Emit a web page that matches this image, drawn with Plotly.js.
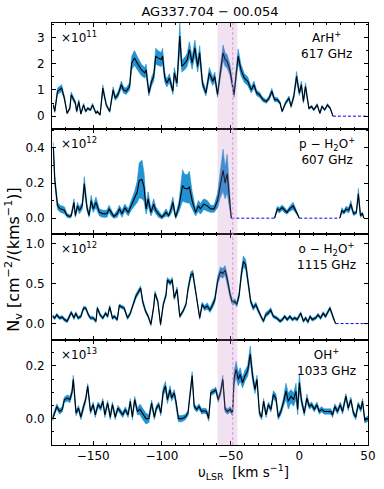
<!DOCTYPE html>
<html><head><meta charset="utf-8">
<script src="https://cdn.plot.ly/plotly-3.0.1.min.js"></script>
<style>html,body{margin:0;padding:0;background:#fff}#chart{width:384px;height:489px}</style>
</head><body><div id="chart"></div>
<script>
// ---------- data (velocity in km/s, column densities in units of the panel scale) ----------
const velArH = [-179,-178,-176,-173,-171,-169,-167,-166,-163,-162,
 -160.5,-159,-157,-155.5,-154,-152,-150.5,-148,-147,-145,
 -143,-140.5,-138,-135.5,-134,-132,-129.5,-128,-126,-123.5,
 -122,-120,-118,-115,-112.5,-111.5,-109.5,-107.5,-106,-104.5,
 -103,-100.5,-99.5,-98,-96.5,-94.5,-92,-91,-89,-87,
 -85.5,-83,-81.5,-80,-78,-76,-74,-72.5,-70.5,-68,
 -65.5,-63,-61.5,-59.5,-57.5,-55.5,-54,-52.5,-50.5,-47.5,
 -46,-44.5,-42.5,-40,-37.5,-35,-33,-31,-29,-26.5,
 -24,-22,-20,-18,-16,-14,-12.5,-10,-7.5,-6,
 -4,-2,0,1.5,3,4.5,7,9,10.5,13,
 15,16.5,18.5,20.5,22.5,24.5];
const nArH = [0.43,0.18,0.95,1.07,0.69,0.11,0.30,0.82,0.50,0.18,
 0.56,0.09,0.43,0.18,0.30,0.24,0.43,0.11,0.18,0.05,
 1.07,0.43,0.18,1.0,0.69,0.82,1.2,1.0,0.95,1.14,
 2.03,2.22,2.03,1.77,1.65,1.77,0.88,1.33,1.5,2.29,
 2.22,2.16,2.29,1.5,1.26,1.45,0.95,1.65,1.26,3.05,
 1.9,2.03,2.16,2.54,2.03,2.6,1.9,2.41,1.26,0.88,
 1.65,1.33,1.5,0.82,1.65,2.41,2.16,2.09,1.77,0.82,
 1.58,2.29,1.77,1.45,1.33,1.0,1.2,0.88,0.82,0.63,
 0.56,0.69,0.95,0.63,0.63,0.5,0.18,0.5,0.69,0.37,
 0.76,1.52,0.88,1.2,0.56,1.14,0.3,0.37,0.24,0.43,
 0.11,0.37,0.24,0.43,0.3,0.0];
const errArH = [0.06,0.04,0.12,0.13,0.08,0.03,0.05,0.10,0.07,0.04,
 0.07,0.03,0.06,0.04,0.05,0.04,0.06,0.03,0.04,0.03,
 0.12,0.06,0.04,0.12,0.09,0.10,0.14,0.12,0.12,0.14,
 0.25,0.28,0.25,0.22,0.20,0.22,0.11,0.16,0.18,0.30,
 0.28,0.27,0.30,0.18,0.15,0.17,0.12,0.20,0.15,0.50,
 0.22,0.24,0.25,0.30,0.24,0.30,0.22,0.28,0.15,0.11,
 0.20,0.16,0.18,0.10,0.20,0.30,0.26,0.25,0.21,0.10,
 0.19,0.27,0.21,0.17,0.16,0.12,0.14,0.10,0.10,0.08,
 0.07,0.08,0.11,0.08,0.08,0.06,0.03,0.06,0.08,0.05,
 0.09,0.18,0.10,0.14,0.07,0.13,0.04,0.05,0.03,0.05,
 0.02,0.05,0.03,0.05,0.04,0.0];

const velPH2O = [-179,-178,-176,-174,-171,-169,-167,-166,-164,-163,
 -161.5,-160,-158,-156.5,-154.5,-153,-151.5,-150,-148,-145.5,
 -143,-140,-138.5,-137,-135,-132.5,-131,-129,-127,-124.5,
 -122,-120,-118,-116.5,-114.5,-113,-111.5,-110,-108,-106,
 -104.5,-102.5,-100,-97,-95,-93,-92,-90,-87.5,-85,
 -83.5,-81.5,-80,-78,-75.5,-73.5,-72,-69.5,-67,-64.5,
 -62,-59.5,-57.5,-55.5,-54,-52.5,-51,-49.5,
 null,
 -18,-16,-14.5,-12.5,-10.5,-9,-7,-4.5,-2,0,
 null,
 29.5,31,32.5,34,36,37.5,39.5,41.5,43,44.5,46,47];
const nPH2O = [0.40,0.22,0.07,0.053,0.045,0.015,0.01,0.015,0.09,0.015,
 0.07,0.045,0.07,0.196,0.06,0.015,0.10,0.053,0.09,0.033,
 0.025,0.025,0.053,0.033,0.01,0.025,0.053,0.025,0.06,0.033,
 0.08,0.11,0.149,0.215,0.22,0.177,0.053,0.11,0.033,0.08,
 0.045,0.025,0.006,0.033,0.015,0.06,0.09,0.006,0.07,0.186,
 0.17,0.167,0.177,0.10,0.033,0.07,0.053,0.08,0.07,0.053,
 0.053,0.10,0.186,0.272,0.20,0.253,0.129,0.0,
 null,
 0.0,0.053,0.045,0.06,0.045,0.033,0.053,0.07,0.033,0.0,
 null,
 0.0,0.045,0.033,0.053,0.045,0.08,0.025,0.033,0.139,0.015,0.025,0.0];
const errPH2O = [0.03,0.03,0.02,0.02,0.02,0.01,0.01,0.01,0.02,0.01,
 0.02,0.02,0.02,0.04,0.02,0.01,0.03,0.02,0.03,0.02,
 0.02,0.02,0.02,0.02,0.01,0.02,0.02,0.02,0.02,0.02,
 0.03,0.04,0.06,0.10,0.11,0.08,0.03,0.04,0.02,0.03,
 0.02,0.02,0.01,0.02,0.01,0.03,0.03,0.01,0.03,0.09,
 0.08,0.08,0.09,0.05,0.02,0.03,0.03,0.03,0.03,0.02,
 0.02,0.04,0.07,0.12,0.09,0.11,0.06,0.0,
 null,
 0,0.015,0.015,0.015,0.015,0.01,0.015,0.02,0.01,0,
 null,
 0,0.015,0.01,0.015,0.015,0.02,0.01,0.01,0.03,0.01,0.01,0];

const velOH2O = [-179.5,-178,-176.5,-174.5,-172.5,-171,-169,-167.7,-166,-164,
 -162.7,-161,-159,-157,-155.5,-153.5,-152,-150,-148,-147,
 -145,-143,-141,-139.5,-138,-136,-134.5,-132.5,-131,-129.5,
 -127.5,-125,-123,-121.5,-119,-117,-115.5,-114,-112,-110,
 -108,-106,-105,-103,-101,-99,-97,-96,-94,-92.5,
 -91,-89,-87,-84.5,-82.5,-81,-79,-77.5,-75.8,-74,
 -72.5,-70.7,-69,-67,-65,-63,-61.5,-59.3,-57.4,-55.7,
 -54,-52.3,-50.3,-48.6,-47,-45.5,-43.8,-42.1,-40.7,-39,
 -37.3,-35.4,-33.5,-31.7,-30,-28.1,-26.1,-24.5,-22.8,-20.8,
 -18.9,-16.5,-14,-12.3,-10.7,-8.7,-6.8,-5.1,-3.4,-1.5,
 1,3,4.6,6.3,7.8,9.4,11.9,13.6,15.5,17.4,
 19.1,22.3,24.7,26.4];
const nOH2O = [0.09,0.07,0.11,0.07,0.08,0.05,0.03,0.07,0.14,0.07,
 0.13,0.07,0.09,0.195,0.195,0.11,0.07,0.07,0.03,0.195,
 0.11,0.07,0.13,0.09,0.21,0.07,0.09,0.05,0.225,0.21,
 0.195,0.07,0.13,0.21,0.34,0.40,0.445,0.28,0.16,0.09,
 -0.01,0.21,0.38,0.28,-0.01,0.24,0.36,0.55,0.51,0.55,
 0.32,0.43,0.09,0.16,0.24,0.43,0.61,0.63,0.445,0.26,
 0.07,0.24,0.195,0.22,0.17,0.24,0.30,0.55,0.65,0.63,
 0.67,0.55,0.36,0.26,0.28,0.24,0.36,0.63,0.78,0.74,
 0.51,0.28,0.195,0.24,0.17,0.09,0.03,0.11,0.13,0.17,
 0.09,0.07,0.03,0.05,0.09,0.05,0.09,0.05,0.07,0.05,
 0.13,0.03,0.07,0.02,0.09,0.05,0.07,0.11,0.07,0.13,
 0.09,0.195,0.07,0.0];
const errOH2O = [0.02,0.02,0.02,0.02,0.02,0.02,0.02,0.02,0.02,0.02,
 0.02,0.02,0.02,0.02,0.02,0.02,0.02,0.02,0.02,0.02,
 0.02,0.02,0.02,0.02,0.02,0.02,0.02,0.02,0.02,0.02,
 0.02,0.02,0.02,0.02,0.03,0.03,0.03,0.03,0.02,0.02,
 0.02,0.02,0.03,0.02,0.02,0.02,0.03,0.03,0.03,0.03,
 0.02,0.03,0.02,0.02,0.02,0.03,0.04,0.04,0.03,0.02,
 0.02,0.03,0.03,0.04,0.03,0.04,0.04,0.05,0.06,0.06,
 0.06,0.05,0.04,0.03,0.03,0.03,0.04,0.05,0.07,0.06,
 0.05,0.03,0.03,0.03,0.03,0.02,0.02,0.03,0.03,0.03,
 0.02,0.02,0.02,0.02,0.02,0.02,0.02,0.02,0.02,0.02,
 0.02,0.02,0.02,0.02,0.02,0.02,0.02,0.02,0.02,0.02,
 0.02,0.02,0.02,0.0];

const velOH = [-179.5,-178,-176.5,-174.5,-172.5,-171,-168.6,-167,-165.5,-164.5,
 -162.5,-160.7,-159,-157,-155.5,-154,-152,-150,-148.5,-146.5,
 -144.5,-143,-141.5,-139.5,-137.6,-136,-134,-132,-130.5,-128.5,
 -126.7,-124.6,-123,-121.5,-119.8,-117.8,-116,-113.6,-111.6,-109.5,
 -107.5,-105.5,-104,-102.3,-100.8,-99,-97.4,-96,-94,-93,
 -91,-89.6,-88,-85.5,-83,-81,-80,-78,-76.5,-74.6,
 -73,-71,-69.5,-67.5,-66,-64.4,-62,-60.8,-59,-57.4,
 -55.7,-54,-52.3,-50.3,-48.6,-47.4,-46,-44.4,-43,-41.3,
 -39.6,-37.6,-35.7,-34,-32.3,-30.8,-29,-27.4,-26,-24.2,
 -22.5,-20.6,-18.9,-17,-15.3,-13.4,-11.7,-9.7,-8,-6.1,
 -4.1,-2.4,-1.2,0,1.7,3.6,5.5,7.3,9,10.9,
 12.8,14.5,16.2,18.2,20.6,23,24.2,25.9,27.8,29.8,
 31.5,33.9,35.6,37.5,39.4,41.1,42.8,44.8,46,47.7,
 50];
const nOH = [0.0,0.027,0.046,0.027,0.035,0.072,0.078,0.072,0.098,0.149,
 0.021,0.04,0.006,0.046,0.072,0.123,0.027,0.053,0.014,0.053,
 0.04,0.066,0.014,0.059,0.006,0.053,0.006,0.04,0.027,0.014,
 0.035,0.014,0.066,0.006,0.072,0.027,0.035,0.014,0.0,0.0,
 0.059,0.006,0.04,0.053,0.021,0.104,0.123,0.072,0.11,0.078,
 0.098,0.059,0.0,0.0,0.006,0.021,0.072,0.163,0.046,0.035,
 0.046,0.027,0.03,0.027,0.0,0.098,0.104,0.11,0.072,0.098,
 0.149,0.035,0.027,0.035,0.021,0.155,0.187,0.149,0.168,0.136,
 0.162,0.181,0.245,0.162,0.11,0.149,0.021,0.006,0.066,0.014,
 0.053,0.035,0.091,0.078,0.006,0.027,0.059,0.104,0.066,0.085,
 0.072,0.104,0.035,0.136,0.066,0.021,0.078,0.046,0.053,0.035,
 0.053,0.027,0.035,0.027,0.027,0.027,0.014,0.046,0.027,0.053,
 0.027,0.085,0.04,0.072,0.021,0.006,0.053,0.035,0.066,-0.007,
 0.0];
const errOH = [0.01,0.01,0.01,0.01,0.01,0.01,0.012,0.012,0.012,0.015,
 0.01,0.01,0.01,0.01,0.01,0.01,0.01,0.01,0.01,0.01,
 0.01,0.01,0.01,0.01,0.01,0.01,0.01,0.01,0.01,0.01,
 0.01,0.01,0.01,0.01,0.012,0.012,0.02,0.02,0.02,0.015,
 0.012,0.01,0.01,0.01,0.01,0.015,0.018,0.015,0.015,0.012,
 0.012,0.01,0.012,0.012,0.01,0.01,0.01,0.015,0.01,0.01,
 0.01,0.01,0.01,0.01,0.01,0.01,0.01,0.01,0.01,0.01,
 0.015,0.01,0.01,0.01,0.01,0.025,0.03,0.025,0.025,0.02,
 0.02,0.02,0.03,0.02,0.015,0.015,0.01,0.01,0.01,0.01,
 0.01,0.01,0.015,0.015,0.01,0.012,0.015,0.03,0.03,0.025,
 0.025,0.03,0.02,0.035,0.015,0.01,0.015,0.01,0.01,0.01,
 0.01,0.01,0.01,0.01,0.01,0.01,0.01,0.01,0.01,0.01,
 0.01,0.01,0.01,0.01,0.01,0.01,0.01,0.01,0.01,0.01,
 0.01];

// blank (no-data) velocity stretches drawn as dashed zero level
const gapArH = [24.5, 50];
const gapPH2O = [-49.5, -18, null, 0, 29.5];
const gapOH2O = [26.4, 50];
const gapOH = [];

const vSource = -48.4;          // dashed vertical line
const vShade = [-59.5, -45];    // shaded velocity interval
const xTicks = [-150, -100, -50, 0, 50];

const titleText = 'AG337.704 − 00.054';
const speciesLabels = ['ArH<sup>+</sup><br>617 GHz', 'p − H<sub>2</sub>O<sup>+</sup><br>607 GHz',
  'o − H<sub>2</sub>O<sup>+</sup><br>1115 GHz', 'OH<sup>+</sup><br>1033 GHz'];
const scaleLabels = ['×10<sup>11</sup>', '×10<sup>12</sup>', '×10<sup>12</sup>', '×10<sup>13</sup>'];

// ---------- build ----------
const FONT = 'DejaVu Sans, Liberation Sans, sans-serif';
const BAND = 'rgb(33,146,210)';
const panels = [
  {v: velArH, n: nArH, e: errArH, gap: gapArH, range: [-0.47, 3.55], dtick: 1, minor: 0.5, fmt: 'd'},
  {v: velPH2O, n: nPH2O, e: errPH2O, gap: gapPH2O, range: [-0.09, 0.51], dtick: 0.2, minor: 0.1, fmt: '.1f'},
  {v: velOH2O, n: nOH2O, e: errOH2O, gap: gapOH2O, range: [-0.2, 1.125], dtick: 0.5, minor: 0.25, fmt: '.1f'},
  {v: velOH, n: nOH, e: errOH, gap: gapOH, range: [-0.1, 0.3], dtick: 0.2, minor: 0.05, fmt: '.1f'}
];
const domains = [[0.75, 1], [0.5, 0.75], [0.25, 0.5], [0, 0.25]];

const traces = [];
const layout = {
  width: 384, height: 489,
  margin: {l: 52, r: 16, t: 23, b: 44},
  paper_bgcolor: '#fff', plot_bgcolor: '#fff',
  showlegend: false,
  font: {family: FONT, size: 12, color: '#000'},
  title: {text: titleText, x: 0.5, xref: 'paper', y: 0.976, yref: 'container', yanchor: 'middle',
          font: {family: FONT, size: 13, color: '#000'}},
  annotations: [], shapes: []
};

panels.forEach((p, k) => {
  const sfx = k === 0 ? '' : String(k + 1);
  const xa = 'x' + sfx, ya = 'y' + sfx;
  let seg = [];
  const segs = [];
  p.v.forEach((v, i) => {
    if (v === null || p.n[i] === null) { if (seg.length) segs.push(seg); seg = []; }
    else seg.push(i);
  });
  if (seg.length) segs.push(seg);
  segs.forEach(s => {
    const xs = s.map(i => p.v[i]);
    const up = s.map(i => p.n[i] + p.e[i]);
    const lo = s.map(i => p.n[i] - p.e[i]);
    traces.push({x: xs.concat(xs.slice().reverse()), y: up.concat(lo.slice().reverse()),
      xaxis: xa, yaxis: ya, mode: 'lines', fill: 'toself', fillcolor: BAND,
      line: {width: 0.6, color: BAND}, hoverinfo: 'skip'});
  });
  traces.push({x: p.v, y: p.n, xaxis: xa, yaxis: ya, mode: 'lines',
    line: {color: '#000', width: 1.1}, connectgaps: false});
  if (p.gap.length) {
    traces.push({x: p.gap, y: p.gap.map(v => v === null ? null : 0), xaxis: xa, yaxis: ya,
      mode: 'lines', line: {color: '#0000ff', width: 1, dash: '3px,2px'}, connectgaps: false});
  }
  layout['xaxis' + sfx] = {
    domain: [0, 1], range: [-180, 50], anchor: ya, tickvals: xTicks,
    ticks: 'inside', ticklen: 4, tickwidth: 1, tickcolor: '#000',
    showline: true, linecolor: '#000', linewidth: 1, mirror: 'allticks',
    showgrid: false, zeroline: false, showticklabels: k === 3,
    tickfont: {family: FONT, size: 12, color: '#000'},
    minor: {dtick: 10, tick0: 0, ticks: 'inside', ticklen: 2, tickcolor: '#000', showgrid: false}
  };
  layout['yaxis' + sfx] = {
    domain: domains[k], range: p.range, anchor: xa, tick0: 0, dtick: p.dtick, tickformat: p.fmt,
    ticks: 'inside', ticklen: 4, tickwidth: 1, tickcolor: '#000',
    showline: true, linecolor: '#000', linewidth: 1, mirror: 'allticks',
    showgrid: false, zeroline: false, ticklabelstandoff: 4,
    tickfont: {family: FONT, size: 12, color: '#000'},
    minor: {dtick: p.minor, tick0: 0, ticks: 'inside', ticklen: 2, tickcolor: '#000', showgrid: false}
  };
  layout.annotations.push({
    text: scaleLabels[k], xref: 'x' + sfx + ' domain', yref: 'y' + sfx + ' domain',
    x: 0.022, y: 1, xanchor: 'left', yanchor: 'top', yshift: -4, showarrow: false,
    font: {family: FONT, size: 12, color: '#000'}
  });
  layout.annotations.push({
    text: speciesLabels[k], xref: 'x' + sfx + ' domain', yref: 'y' + sfx + ' domain',
    x: 0.87, y: 1, xanchor: 'center', yanchor: 'top', yshift: -4, align: 'center', showarrow: false,
    font: {family: FONT, size: 12, color: '#000'}
  });
});

layout.shapes.push({type: 'rect', xref: 'x4', yref: 'paper', x0: vShade[0], x1: vShade[1], y0: 0, y1: 1,
  fillcolor: 'rgba(190,120,190,0.22)', line: {width: 0}, layer: 'above'});
layout.shapes.push({type: 'line', xref: 'x4', yref: 'paper', x0: vSource, x1: vSource, y0: 0, y1: 1,
  line: {color: 'rgb(215,150,215)', width: 1, dash: '3px,2px'}, layer: 'above'});

layout.annotations.push({
  text: 'N<sub>v</sub> [cm<sup>−2</sup>/(kms<sup>−1</sup>)]', xref: 'paper', yref: 'paper',
  x: -0.122, y: 0.44, xanchor: 'center', yanchor: 'middle', textangle: -90, showarrow: false,
  font: {family: FONT, size: 16, color: '#000'}
});
layout.annotations.push({
  text: 'υ<sub>LSR</sub>  [km s<sup>−1</sup>]', xref: 'paper', yref: 'paper',
  x: 0.605, y: -0.064, xanchor: 'center', yanchor: 'middle', showarrow: false,
  font: {family: FONT, size: 13.5, color: '#000'}
});

Plotly.newPlot('chart', traces, layout, {staticPlot: true, displayModeBar: false});
</script></body></html>
